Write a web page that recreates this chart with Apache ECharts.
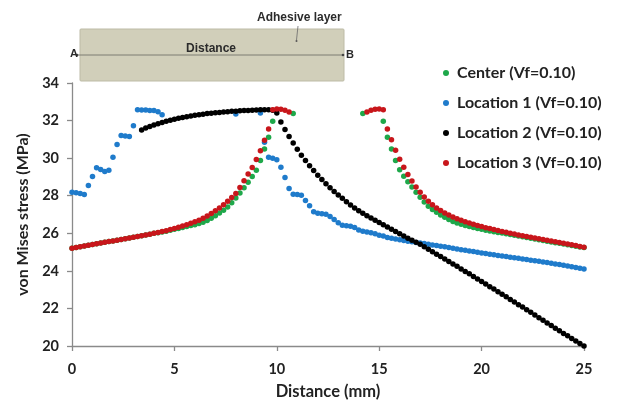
<!DOCTYPE html>
<html>
<head>
<meta charset="utf-8">
<script src="https://cdn.jsdelivr.net/npm/echarts@6/dist/echarts.min.js"></script>
<style>
  html, body { margin: 0; padding: 0; background: #ffffff; }
  #chart { width: 625px; height: 400px; }
</style>
</head>
<body>
<div id="chart"></div>
<script>
// Sampling positions along the adhesive path A-B (mm), 0.2 mm apart
const distance = [
  0, 0.2, 0.4, 0.6, 0.8, 1, 1.2, 1.4, 1.6, 1.8,
  2, 2.2, 2.4, 2.6, 2.8, 3, 3.2, 3.4, 3.6, 3.8,
  4, 4.2, 4.4, 4.6, 4.8, 5, 5.2, 5.4, 5.6, 5.8,
  6, 6.2, 6.4, 6.6, 6.8, 7, 7.2, 7.4, 7.6, 7.8,
  8, 8.2, 8.4, 8.6, 8.8, 9, 9.2, 9.4, 9.6, 9.8,
  10, 10.2, 10.4, 10.6, 10.8, 11, 11.2, 11.4, 11.6, 11.8,
  12, 12.2, 12.4, 12.6, 12.8, 13, 13.2, 13.4, 13.6, 13.8,
  14, 14.2, 14.4, 14.6, 14.8, 15, 15.2, 15.4, 15.6, 15.8,
  16, 16.2, 16.4, 16.6, 16.8, 17, 17.2, 17.4, 17.6, 17.8,
  18, 18.2, 18.4, 18.6, 18.8, 19, 19.2, 19.4, 19.6, 19.8,
  20, 20.2, 20.4, 20.6, 20.8, 21, 21.2, 21.4, 21.6, 21.8,
  22, 22.2, 22.4, 22.6, 22.8, 23, 23.2, 23.4, 23.6, 23.8,
  24, 24.2, 24.4, 24.6, 24.8, 25
];

// von Mises stress (MPa) at each position; null = no point plotted
const centerStress = [
  25.20, 25.24, 25.28, 25.32, 25.36, 25.40, 25.44, 25.48, 25.52, 25.56,
  25.59, 25.63, 25.67, 25.71, 25.75, 25.79, 25.83, 25.87, 25.91, 25.95,
  26.00, 26.03, 26.07, 26.11, 26.16, 26.21, 26.26, 26.31, 26.36, 26.41,
  26.46, 26.52, 26.59, 26.68, 26.80, 26.94, 27.08, 27.23, 27.40, 27.62,
  27.88, 28.15, 28.43, 28.72, 29.02, 29.36, 29.88, 30.49, 31.11, 31.96,
  null, null, null, null, 32.37, null, null, null, null, null,
  null, null, null, null, null, null, null, null, null, null,
  null, 32.37, null, null, null, null, 31.96, 31.11, 30.49, 29.88,
  29.38, 29.03, 28.74, 28.46, 28.18, 27.92, 27.66, 27.44, 27.27, 27.12,
  26.98, 26.85, 26.73, 26.63, 26.55, 26.48, 26.42, 26.36, 26.31, 26.26,
  26.21, 26.16, 26.12, 26.08, 26.04, 26.01, 25.97, 25.93, 25.89, 25.85,
  25.82, 25.78, 25.74, 25.70, 25.66, 25.62, 25.58, 25.54, 25.50, 25.47,
  25.43, 25.39, 25.35, 25.31, 25.27, 25.24
];

const location1Stress = [
  28.19, 28.16, 28.12, 28.07, 28.55, 29.02, 29.49, 29.39, 29.29, 29.36,
  30.05, 30.72, 31.20, 31.18, 31.15, 31.73, 32.58, 32.56, 32.56, 32.54,
  32.53, 32.47, 32.31, null, null, null, null, null, null, null,
  null, null, null, null, null, null, null, null, null, null,
  32.35, null, null, null, null, null, 32.40, 30.85, 30.05, 30.00,
  29.92, 29.52, 28.97, 28.38, 28.08, 28.06, 28.02, 27.74, 27.46, 27.15,
  27.07, 27.04, 27.01, 26.90, 26.73, 26.56, 26.43, 26.40, 26.37, 26.31,
  26.17, 26.11, 26.07, 26.03, 25.98, 25.90, 25.85, 25.78, 25.73, 25.69,
  25.65, 25.62, 25.58, 25.55, 25.51, 25.48, 25.45, 25.41, 25.38, 25.35,
  25.31, 25.28, 25.25, 25.21, 25.17, 25.13, 25.10, 25.06, 25.03, 24.99,
  24.95, 24.92, 24.89, 24.86, 24.82, 24.79, 24.76, 24.73, 24.70, 24.67,
  24.63, 24.60, 24.57, 24.54, 24.51, 24.47, 24.44, 24.40, 24.37, 24.34,
  24.30, 24.26, 24.22, 24.18, 24.14, 24.10
];

const location2Stress = [
  null, null, null, null, null, null, null, null, null, null,
  null, null, null, null, null, null, null, 31.50, 31.60, 31.68,
  31.76, 31.83, 31.90, 31.96, 32.02, 32.07, 32.12, 32.16, 32.20, 32.24,
  32.28, 32.31, 32.34, 32.37, 32.39, 32.41, 32.43, 32.45, 32.47, 32.49,
  32.50, 32.52, 32.53, 32.54, 32.55, 32.56, 32.57, 32.57, 32.57, 32.55,
  32.40, 31.92, 31.52, 31.15, 30.80, 30.47, 30.16, 29.87, 29.60, 29.34,
  29.09, 28.86, 28.64, 28.43, 28.23, 28.04, 27.86, 27.68, 27.51, 27.35,
  27.20, 27.07, 26.94, 26.81, 26.69, 26.57, 26.45, 26.33, 26.21, 26.09,
  25.97, 25.85, 25.74, 25.63, 25.52, 25.41, 25.28, 25.15, 25.02, 24.89,
  24.76, 24.63, 24.50, 24.37, 24.24, 24.10, 23.97, 23.84, 23.70, 23.57,
  23.43, 23.30, 23.16, 23.03, 22.89, 22.75, 22.62, 22.48, 22.34, 22.20,
  22.07, 21.93, 21.79, 21.65, 21.51, 21.37, 21.23, 21.09, 20.95, 20.81,
  20.67, 20.54, 20.40, 20.27, 20.13, 20.00
];

const location3Stress = [
  25.20, 25.24, 25.28, 25.32, 25.36, 25.40, 25.44, 25.48, 25.52, 25.56,
  25.59, 25.63, 25.67, 25.71, 25.75, 25.79, 25.83, 25.87, 25.91, 25.95,
  26.00, 26.04, 26.09, 26.14, 26.20, 26.26, 26.32, 26.39, 26.46, 26.54,
  26.62, 26.70, 26.80, 26.92, 27.05, 27.20, 27.35, 27.52, 27.70, 27.90,
  28.12, 28.44, 28.80, 29.15, 29.50, 29.93, 30.40, 30.95, 31.55, 32.58,
  32.62, 32.60, 32.55, 32.45, null, null, null, null, null, null,
  null, null, null, null, null, null, null, null, null, null,
  null, null, 32.45, 32.55, 32.60, 32.62, 32.58, 31.55, 30.98, 30.42,
  29.94, 29.51, 29.13, 28.78, 28.46, 28.18, 27.93, 27.71, 27.52, 27.35,
  27.21, 27.08, 26.97, 26.87, 26.78, 26.70, 26.62, 26.55, 26.48, 26.42,
  26.36, 26.30, 26.25, 26.20, 26.15, 26.10, 26.05, 26.00, 25.96, 25.91,
  25.87, 25.83, 25.79, 25.75, 25.71, 25.67, 25.63, 25.59, 25.55, 25.51,
  25.47, 25.43, 25.39, 25.35, 25.30, 25.26
];

const seriesNames = [
  'Center (Vf=0.10)',
  'Location 1 (Vf=0.10)',
  'Location 2 (Vf=0.10)',
  'Location 3 (Vf=0.10)'
];
const seriesValues = [centerStress, location1Stress, location2Stress, location3Stress];
const seriesColors = ['#1ea84a', '#1f7bcb', '#000000', '#c8161b'];

const FONT = 'Lato, "Open Sans", sans-serif';
const INSET_FONT = '"Liberation Sans", Arial, sans-serif';
const AXIS_GREY = '#8a8a8a';
const TEXT = '#222222';

function toPoints(values) {
  const pts = [];
  values.forEach((v, i) => { if (v !== null) pts.push([distance[i], v]); });
  return pts;
}

const chart = echarts.init(document.getElementById('chart'), null, { renderer: 'canvas' });

chart.setOption({
  animation: false,
  backgroundColor: '#ffffff',
  grid: { left: 72, right: 41, top: 83, bottom: 54, outerBoundsMode: 'none', containLabel: false },
  legend: {
    orient: 'vertical',
    left: 438,
    top: 59,
    itemWidth: 6,
    itemHeight: 6,
    itemGap: 12,
    icon: 'circle',
    data: seriesNames,
    textStyle: {
      fontFamily: FONT, fontSize: 16, fontWeight: 'bold', color: TEXT,
      lineHeight: 18, padding: [0, 0, 0, 3]
    }
  },
  xAxis: {
    type: 'value',
    min: 0, max: 25, interval: 5,
    name: 'Distance (mm)',
    nameLocation: 'middle',
    nameGap: 37,
    nameTextStyle: { fontFamily: FONT, fontSize: 16.5, fontWeight: 'bold', color: TEXT },
    axisLine: { show: true, onZero: false, lineStyle: { color: AXIS_GREY, width: 1.3 } },
    axisTick: { show: true, length: 5, lineStyle: { color: AXIS_GREY, width: 1.3 } },
    axisLabel: { margin: 16, fontFamily: FONT, fontSize: 14.5, fontWeight: 'bold', color: TEXT },
    splitLine: { show: false }
  },
  yAxis: {
    type: 'value',
    min: 20, max: 34, interval: 2,
    name: 'von Mises stress (MPa)',
    nameLocation: 'middle',
    nameGap: 40,
    nameTextStyle: { fontFamily: FONT, fontSize: 16, fontWeight: 'bold', color: TEXT },
    axisLine: { show: true, lineStyle: { color: AXIS_GREY, width: 1.3 } },
    axisTick: { show: true, length: 5, lineStyle: { color: AXIS_GREY, width: 1.3 } },
    axisLabel: { margin: 13, fontFamily: FONT, fontSize: 14.5, fontWeight: 'bold', color: TEXT },
    splitLine: { show: false }
  },
  series: seriesNames.map((name, k) => ({
    name: name,
    type: 'scatter',
    symbol: 'circle',
    symbolSize: 5.5,
    itemStyle: { color: seriesColors[k], opacity: 1 },
    emphasis: { disabled: true },
    data: toPoints(seriesValues[k])
  })),
  graphic: [
    // schematic of the adhesive layer with the path A-B
    {
      type: 'rect', z: 10,
      shape: { x: 80, y: 29, width: 264, height: 52, r: 1 },
      style: { fill: '#d1cfba', stroke: '#bdbba6', lineWidth: 1 }
    },
    {
      type: 'line', z: 11,
      shape: { x1: 77, y1: 55, x2: 343, y2: 55 },
      style: { stroke: '#7d7c72', lineWidth: 1 }
    },
    { type: 'circle', z: 11, shape: { cx: 77, cy: 55, r: 1.3 }, style: { fill: '#444' } },
    { type: 'circle', z: 11, shape: { cx: 343, cy: 55, r: 1.3 }, style: { fill: '#444' } },
    {
      type: 'text', z: 12, left: 70, top: 48,
      style: { text: 'A', fontFamily: INSET_FONT, fontSize: 11, fontWeight: 'bold', fill: '#2b2b2b' }
    },
    {
      type: 'text', z: 12, left: 346, top: 49,
      style: { text: 'B', fontFamily: INSET_FONT, fontSize: 11, fontWeight: 'bold', fill: '#2b2b2b' }
    },
    {
      type: 'text', z: 12, left: 186, top: 43,
      style: { text: 'Distance', fontFamily: INSET_FONT, fontSize: 12, fontWeight: 'bold', fill: '#2b2b2b' }
    },
    {
      type: 'text', z: 12, left: 257, top: 12,
      style: { text: 'Adhesive layer', fontFamily: INSET_FONT, fontSize: 12, fontWeight: 'bold', fill: '#2b2b2b' }
    },
    {
      type: 'line', z: 11,
      shape: { x1: 298, y1: 26, x2: 296.5, y2: 40 },
      style: { stroke: '#6a6a6a', lineWidth: 0.8 }
    },
    { type: 'circle', z: 11, shape: { cx: 296.5, cy: 41, r: 1 }, style: { fill: '#555' } }
  ]
});
</script>
</body>
</html>
